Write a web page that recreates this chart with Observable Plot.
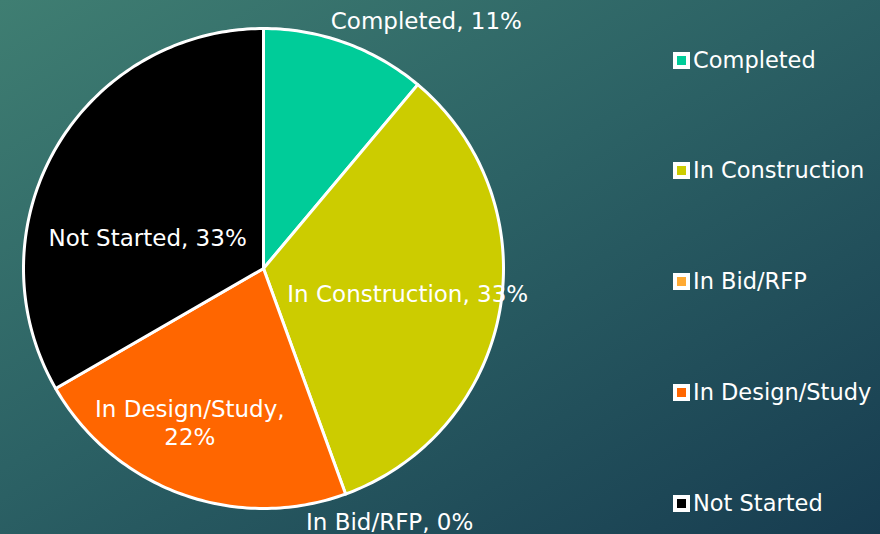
<!DOCTYPE html>
<html>
<head>
<meta charset="utf-8">
<script src="https://cdn.jsdelivr.net/npm/d3@7"></script>
<script src="https://cdn.jsdelivr.net/npm/@observablehq/plot@0.6"></script>
<style>
  html, body { margin: 0; padding: 0; }
  #wrap {
    position: relative; width: 880px; height: 534px; overflow: hidden;
    background: linear-gradient(150deg, #3f7e72 0%, #2c6265 45%, #173c50 100%);
    font-family: "DejaVu Sans", sans-serif;
  }
  #wrap svg { position: absolute; left: 0; top: 0; background: transparent; }
  #legend { position: absolute; left: 673px; top: 0; }
  .item { position: absolute; left: 0; display: flex; align-items: center; white-space: nowrap;
          color: #fff; font-size: 22.5px; height: 30px; }
  .sw { width: 9px; height: 9px; border: 4px solid #fff; margin-right: 3px; }
</style>
</head>
<body>
<div id="wrap"><div id="legend"></div></div>
<script>
// Data
const categories = ["Completed", "In Construction", "In Bid/RFP", "In Design/Study", "Not Started"];
const counts = [1, 3, 0, 2, 3];
const colors = ["#00cc99", "#cccc00", "#ffaa33", "#ff6600", "#000000"];
// label placement: [radius fraction, angle in degrees]
const labelLayout = [[1.236, 33.3], [0.61, 99.8], [1.178, 153.5], [0.71, 205.6], [0.5, 285]];

const total = d3.sum(counts);
const pie = d3.pie().sort(null).value(d => d.value).startAngle(0).endAngle(2 * Math.PI);
const rows = categories.map((c, i) => ({name: c, value: counts[i]}));
const arcs = pie(rows);

// polygon outline for each slice
const pts = [];
arcs.forEach(a => {
  if (a.data.value <= 0) return;
  const n = Math.max(2, Math.ceil((a.endAngle - a.startAngle) / (Math.PI / 180)));
  pts.push({name: a.data.name, x: 0, y: 0});
  for (let k = 0; k <= n; k++) {
    const t = a.startAngle + (a.endAngle - a.startAngle) * k / n;
    pts.push({name: a.data.name, x: Math.sin(t), y: Math.cos(t)});
  }
  pts.push({name: a.data.name, x: 0, y: 0});
});

const labels = arcs.map((a, i) => {
  const [r, deg] = labelLayout[i];
  const t = deg * Math.PI / 180;
  const pct = Math.round(a.data.value / total * 100);
  const sep = a.data.name === "In Design/Study" ? ",\n" : ", ";
  return {text: `${a.data.name}${sep}${pct}%`, x: r * Math.sin(t), y: r * Math.cos(t)};
});

const chart = Plot.plot({
  width: 880, height: 534,
  x: {domain: [-1, 1], range: [23, 503], axis: null},
  y: {domain: [-1, 1], range: [508, 28], axis: null},
  color: {domain: categories, range: colors},
  style: {background: "transparent", fontFamily: "DejaVu Sans, sans-serif"},
  marks: [
    Plot.line(pts, {x: "x", y: "y", z: "name", fill: "name", stroke: "#fff", strokeWidth: 3, strokeLinejoin: "round", curve: "linear"}),
    Plot.text(labels, {x: "x", y: "y", text: "text", fill: "#fff", fontSize: 23, lineHeight: 1.2})
  ]
});
document.getElementById("wrap").appendChild(chart);

const legend = document.getElementById("legend");
const legendY = [45, 155, 266, 377, 488];
categories.forEach((c, i) => {
  const el = document.createElement("div");
  el.className = "item";
  el.style.top = legendY[i] + "px";
  el.innerHTML = `<div class="sw" style="background:${colors[i]}"></div><span>${c}</span>`;
  legend.appendChild(el);
});
</script>
</body>
</html>
